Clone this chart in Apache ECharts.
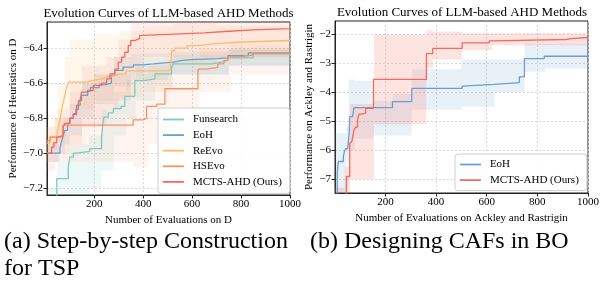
<!DOCTYPE html>
<html><head><meta charset="utf-8">
<script src="https://cdn.jsdelivr.net/npm/echarts@6/dist/echarts.min.js"></script>
<style>html,body{margin:0;padding:0;background:#fff}#c{width:602px;height:281px}</style>
</head><body><div id="c"></div>
<script>
// ---------- data (x = number of evaluations, y = performance) ----------
const leftTicksX = [200, 400, 600, 800, 1000];
const leftTicksY = [-7.2, -7.0, -6.8, -6.6, -6.4];
const rightTicksX = [200, 400, 600, 800, 1000];
const rightTicksY = [-7, -6, -5, -4, -3, -2];

// (a) TSP step-by-step construction
const tspFunsearch = [[7,-7.45],[47,-7.146],[94,-7.08],[100,-7.023],[115,-7.0],[130,-6.99],[182,-6.975],[230,-6.909],[234,-6.851],[239,-6.794],[257,-6.77],[278,-6.746],[310,-6.733],[325,-6.676],[366,-6.585],[405,-6.575],[448,-6.547],[516,-6.509],[522,-6.49],[600,-6.49],[680,-6.48],[720,-6.47],[746,-6.455],[850,-6.432],[1000,-6.427]];
const tspEoH = [[7,-7.0],[60,-6.97],[67,-6.93],[74,-6.9],[80,-6.87],[91,-6.83],[100,-6.8],[114,-6.775],[125,-6.75],[135,-6.7],[148,-6.67],[173,-6.64],[185,-6.625],[220,-6.61],[244,-6.6],[270,-6.556],[284,-6.527],[318,-6.508],[360,-6.495],[400,-6.49],[441,-6.48],[522,-6.47],[560,-6.465],[600,-6.46],[700,-6.455],[746,-6.442],[830,-6.427],[1000,-6.42]];
const tspReEvo = [[7,-6.943],[19,-6.905],[47,-6.9],[52,-6.86],[60,-6.81],[68,-6.74],[75,-6.7],[83,-6.65],[90,-6.613],[97,-6.594],[169,-6.583],[200,-6.575],[237,-6.566],[250,-6.56],[275,-6.55],[300,-6.545],[330,-6.53],[400,-6.528],[510,-6.52],[517,-6.413],[530,-6.4],[580,-6.385],[620,-6.375],[690,-6.366],[780,-6.356],[1000,-6.356]];
const tspHSEvo = [[7,-6.93],[20,-6.91],[40,-6.9],[72,-6.84],[359,-6.81],[400,-6.8],[414,-6.733],[455,-6.72],[489,-6.632],[624,-6.52],[660,-6.51],[705,-6.49],[730,-6.47],[746,-6.45],[790,-6.44],[848,-6.427],[1000,-6.425]];
const tspMCTS = [[7,-7.0],[26,-6.966],[35,-6.94],[47,-6.909],[60,-6.9],[73,-6.851],[80,-6.83],[101,-6.8],[115,-6.78],[128,-6.727],[142,-6.7],[148,-6.651],[170,-6.64],[196,-6.613],[230,-6.6],[251,-6.575],[264,-6.547],[284,-6.52],[298,-6.48],[312,-6.451],[325,-6.423],[339,-6.385],[349,-6.356],[365,-6.345],[386,-6.327],[400,-6.318],[550,-6.312],[650,-6.303],[750,-6.295],[850,-6.288],[1000,-6.283]];
// bands: [x, low, high]
const tspFunsearchBand = [[7,-7.5,-7.2],[50,-7.45,-7.05],[100,-7.35,-6.95],[180,-7.2,-6.9],[230,-7.1,-6.75],[280,-6.9,-6.65],[330,-6.8,-6.58],[370,-6.7,-6.5],[450,-6.62,-6.48],[520,-6.55,-6.44],[750,-6.5,-6.41],[1000,-6.48,-6.4]];
const tspEoHBand = [[7,-7.05,-6.95],[60,-7.0,-6.9],[80,-6.95,-6.8],[100,-6.9,-6.72],[150,-6.8,-6.6],[200,-6.72,-6.55],[280,-6.62,-6.45],[350,-6.58,-6.43],[500,-6.55,-6.42],[750,-6.5,-6.4],[1000,-6.48,-6.38]];
const tspReEvoBand = [[7,-7.0,-6.85],[30,-6.98,-6.8],[50,-6.95,-6.6],[80,-6.85,-6.45],[100,-6.75,-6.35],[200,-6.7,-6.32],[300,-6.68,-6.3],[400,-6.65,-6.28],[520,-6.5,-6.25],[700,-6.45,-6.27],[1000,-6.42,-6.3]];
const tspHSEvoBand = [[7,-7.05,-6.85],[50,-7.0,-6.75],[100,-7.05,-6.6],[200,-7.05,-6.55],[300,-7.05,-6.55],[360,-7.08,-6.55],[420,-6.95,-6.5],[500,-6.85,-6.45],[630,-6.65,-6.4],[760,-6.55,-6.38],[1000,-6.5,-6.37]];
const tspMCTSBand = [[7,-7.1,-6.92],[40,-7.05,-6.8],[100,-6.95,-6.65],[150,-6.85,-6.5],[250,-6.75,-6.45],[300,-6.7,-6.35],[350,-6.55,-6.22],[400,-6.45,-6.2],[1000,-6.38,-6.2]];

// (b) CAFs in BO
const boEoH = [[1,-8.0],[10,-6.79],[14,-6.39],[34,-6.22],[38,-6.05],[43,-5.95],[51,-5.93],[57,-5.41],[59,-4.84],[70,-4.8],[76,-4.53],[228,-4.32],[304,-3.86],[503,-3.78],[510,-3.72],[630,-3.66],[729,-3.46],[749,-2.83],[827,-2.75],[1000,-2.75]];
const boMCTS = [[1,-8.0],[46,-6.91],[59,-5.76],[64,-5.7],[67,-5.64],[72,-5.5],[76,-5.3],[82,-5.2],[90,-4.96],[96,-4.75],[108,-4.72],[122,-4.55],[153,-3.55],[362,-2.66],[387,-2.48],[503,-2.29],[610,-2.22],[625,-2.17],[913,-2.14],[930,-2.1],[1000,-2.1]];
const boEoHBand = [[1,-8.0,-5.4],[45,-6.4,-5.2],[55,-6.0,-3.55],[80,-5.6,-3.6],[150,-5.5,-4.3],[228,-5.5,-4.05],[304,-4.6,-3.2],[500,-4.5,-2.86],[630,-3.98,-2.86],[750,-3.29,-2.31],[830,-3.17,-2.31],[1000,-3.17,-2.31]];
const boMCTSBand = [[1,-8.0,-7.3],[40,-8.0,-6.56],[60,-7.0,-4.4],[155,-5.1,-2.0],[362,-3.17,-1.85],[387,-2.86,-1.9],[503,-2.54,-1.95],[620,-2.37,-1.95],[1000,-2.35,-1.95]];

const leftNames = ['Funsearch', 'EoH', 'ReEvo', 'HSEvo', 'MCTS-AHD (Ours)'];
const rightNames = ['EoH', 'MCTS-AHD (Ours)'];

// ---------- styling ----------
const FONT = "'Liberation Serif', 'Times New Roman', Times, serif";
const C = {
  'Funsearch': [125, 203, 192],
  'EoH': [107, 159, 207],
  'ReEvo': [255, 186, 110],
  'HSEvo': [255, 143, 94],
  'MCTS-AHD (Ours)': [247, 105, 91]
};
const rgb = (a, al) => al == null ? `rgb(${a[0]},${a[1]},${a[2]})` : `rgba(${a[0]},${a[1]},${a[2]},${al})`;
const minus = (v, d) => (v < 0 ? '\u2212' : '') + Math.abs(v).toFixed(d);

function bandSeries(data, color, alpha, idx) {
  return {
    type: 'custom', xAxisIndex: idx, yAxisIndex: idx, silent: true, z: 1,
    data: data,
    renderItem: function (params, api) {
      const i = params.dataIndex;
      const next = data[Math.min(i + 1, data.length - 1)];
      const p1 = api.coord([api.value(0), api.value(2)]);
      const p2 = api.coord([next[0], api.value(1)]);
      const cs = params.coordSys;
      const rect = echarts.graphic.clipRectByRect(
        { x: p1[0], y: p1[1], width: p2[0] - p1[0], height: p2[1] - p1[1] },
        { x: cs.x, y: cs.y, width: cs.width, height: cs.height });
      if (!rect) return null;
      return { type: 'rect', shape: rect, style: { fill: rgb(color, alpha) } };
    }
  };
}
function lineSeries(name, data, idx) {
  return {
    type: 'line', name: name, xAxisIndex: idx, yAxisIndex: idx, data: data,
    step: 'end', symbol: 'none', z: 3, clip: true,
    lineStyle: { color: rgb(C[name]), width: 1.3 },
    itemStyle: { color: rgb(C[name]) }
  };
}
const axisCommon = {
  axisLine: { show: true, lineStyle: { color: '#222', width: 1 } },
  axisTick: { show: true, length: 3.5, lineStyle: { color: '#222' } },
  splitLine: { show: true, lineStyle: { color: '#d0d0d0', type: [2, 2], width: 0.8 } },
  nameTextStyle: { fontFamily: FONT, fontSize: 11, color: '#000' },
};
function xAxis(idx, min, ticks, name) {
  return Object.assign({}, axisCommon, {
    type: 'value', gridIndex: idx, min: min, max: 1000, name: name,
    nameLocation: 'middle', nameGap: 19,
    axisTick: Object.assign({}, axisCommon.axisTick, { customValues: ticks }),
    axisLabel: { customValues: ticks, fontFamily: FONT, fontSize: 11, color: '#000', margin: 4,
      formatter: v => String(v) },
  });
}
function yAxis(idx, min, max, ticks, dec, name, gap) {
  return Object.assign({}, axisCommon, {
    type: 'value', gridIndex: idx, min: min, max: max, name: name,
    nameLocation: 'middle', nameGap: gap,
    axisTick: Object.assign({}, axisCommon.axisTick, { customValues: ticks }),
    axisLabel: { customValues: ticks, fontFamily: FONT, fontSize: 11, color: '#000', margin: 4,
      formatter: v => minus(v, dec) },
  });
}
const legendCommon = {
  orient: 'vertical', itemWidth: 21, itemHeight: 11, itemGap: 4.6,
  itemStyle: { opacity: 0 },
  backgroundColor: 'rgba(255,255,255,0.85)', borderColor: '#cfcfcf', borderWidth: 1, borderRadius: 3,
  textStyle: { fontFamily: FONT, fontSize: 11, color: '#000', padding: [0, 0, 0, 4] },
  lineStyle: { width: 1.8 }, selectedMode: false
};

const chart = echarts.init(document.getElementById('c'), null, { renderer: 'canvas' });
chart.setOption({
  animation: false,
  backgroundColor: '#fff',
  title: [
    { text: 'Evolution Curves of LLM-based AHD Methods', left: 168.5, top: 7, textAlign: 'center',
      textStyle: { fontFamily: FONT, fontSize: 13, fontWeight: 'normal', color: '#000' }, padding: 0 },
    { text: 'Evolution Curves of LLM-based AHD Methods', left: 462, top: 6, textAlign: 'center',
      textStyle: { fontFamily: FONT, fontSize: 13, fontWeight: 'normal', color: '#000' }, padding: 0 }
  ],
  grid: [
    { left: 47, top: 22, width: 243, height: 173, show: true, borderColor: '#222', borderWidth: 1, backgroundColor: 'transparent' },
    { left: 335, top: 21, width: 254, height: 172, show: true, borderColor: '#222', borderWidth: 1, backgroundColor: 'transparent' }
  ],
  xAxis: [
    xAxis(0, 7, leftTicksX, 'Number of Evaluations on D'),
    xAxis(1, 1, rightTicksX, 'Number of Evaluations on Ackley and Rastrigin')
  ],
  yAxis: [
    yAxis(0, -7.24, -6.25, leftTicksY, 1, 'Performance of Heuristics on D', 28),
    yAxis(1, -7.48, -1.53, rightTicksY, 0, 'Performance on Ackley and Rastrigin', 20)
  ],
  legend: [
    Object.assign({}, legendCommon, { data: leftNames, left: 158, top: 108, padding: [6, 8, 6, 4] }),
    Object.assign({}, legendCommon, { data: rightNames, left: 455, top: 154, padding: [5, 8, 5, 4] })
  ],
  graphic: [
    { type: 'text', left: 4, top: 228, style: { text: '(a) Step-by-step Construction\nfor TSP', fontFamily: FONT, fontSize: 24, fill: '#000', lineHeight: 27 } },
    { type: 'text', left: 310, top: 228, style: { text: '(b) Designing CAFs in BO', fontFamily: FONT, fontSize: 24, fill: '#000', lineHeight: 27 } }
  ],
  series: [
    bandSeries(tspFunsearchBand, C['Funsearch'], 0.13, 0),
    bandSeries(tspEoHBand, C['EoH'], 0.13, 0),
    bandSeries(tspReEvoBand, C['ReEvo'], 0.13, 0),
    bandSeries(tspHSEvoBand, C['HSEvo'], 0.1, 0),
    bandSeries(tspMCTSBand, C['MCTS-AHD (Ours)'], 0.1, 0),
    lineSeries('Funsearch', tspFunsearch, 0),
    lineSeries('EoH', tspEoH, 0),
    lineSeries('ReEvo', tspReEvo, 0),
    lineSeries('HSEvo', tspHSEvo, 0),
    lineSeries('MCTS-AHD (Ours)', tspMCTS, 0),
    bandSeries(boEoHBand, C['EoH'], 0.15, 1),
    bandSeries(boMCTSBand, C['MCTS-AHD (Ours)'], 0.18, 1),
    lineSeries('EoH', boEoH, 1),
    lineSeries('MCTS-AHD (Ours)', boMCTS, 1)
  ]
});
</script></body></html>
